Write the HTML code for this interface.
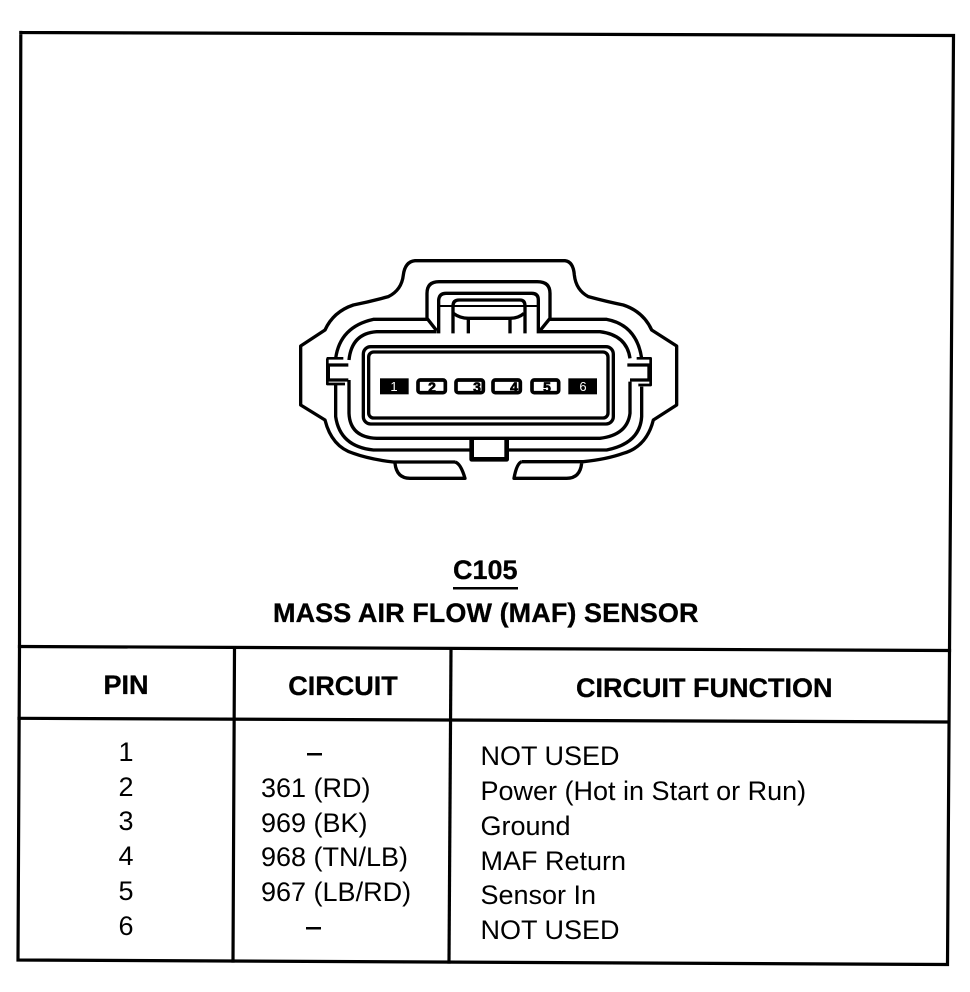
<!DOCTYPE html>
<html>
<head>
<meta charset="utf-8">
<style>
html,body{margin:0;padding:0;background:#fff;width:970px;height:992px;overflow:hidden}
svg{display:block}
text{font-family:"Liberation Sans",Arial,sans-serif;font-size:27px;fill:#000}
.b{font-weight:bold;stroke:#000;stroke-width:.3px}
.m{text-anchor:middle}
</style>
</head>
<body>
<svg width="970" height="992" viewBox="0 0 970 992" xmlns="http://www.w3.org/2000/svg">
<rect width="970" height="992" fill="#fff"/>
<!-- frame -->
<g fill="none" stroke="#000" stroke-width="3.2" stroke-linecap="square">
<path d="M20.8,32.5 L953.5,35.5 L949.5,650.5 L947.5,964.5 L18,960 L19.5,646.5 L20.8,32.5"/>
<path d="M19.5,646.5 L949.5,650.5"/>
<path d="M19,718.3 L948.5,722"/>
<path d="M234.5,648 L233,961"/>
<path d="M451,649 L449,962"/>
</g>
<!-- connector -->
<g transform="translate(290 250) scale(.33333)" fill="none" stroke="#000" stroke-width="10" stroke-linejoin="round">
<!-- outer body -->
<path d="M495,636 H310 Q240,628 190,610 Q125,590 105,510 L32,465 V288 L105,240 Q130,185 190,165 Q240,155 295,140 Q335,120 340,75 Q345,35 375,32 H825 Q850,35 853,75 Q858,120 895,140 Q950,155 1000,165 Q1060,185 1085,240 L1160,288 V465 L1090,510 Q1070,590 1000,610 Q950,628 880,635 H695"/>
<!-- bottom tabs -->
<path d="M315,640 Q320,685 360,685 H525 Q512,640 495,636"/>
<path d="M875,640 Q870,685 830,685 H672 Q680,640 695,635"/>
<!-- second contour -->
<path d="M137,325 Q150,230 250,208 H412"/>
<path d="M778,208 H950 Q1040,225 1055,325"/>
<path d="M137,400 V500 Q150,590 250,600 H540"/>
<path d="M650,600 H950 Q1050,580 1055,500 V410"/>
<!-- third contour -->
<path d="M177,330 Q185,250 260,245 H440"/>
<path d="M750,245 H930 Q1010,255 1020,325"/>
<path d="M177,390 V490 Q180,562 260,565 H930 Q1012,555 1020,490 V395"/>
<!-- inner rects -->
<rect x="220" y="290" width="750" height="232" rx="22"/>
<rect x="236" y="306" width="718" height="198" rx="15"/>
<!-- side tabs -->
<path d="M175,345 H115 V390 H175"/>
<path d="M110,325 H160" stroke-width="8"/>
<path d="M1012,345 H1077 V390 H1020"/>
<path d="M1040,325 H1082 V405 H1045" stroke-width="8"/>
<path d="M112,325 V402 H165" stroke-width="8"/>
<!-- top latch -->
<path d="M440,242 L411,205 V130 Q411,95 447,95 H742 Q780,95 780,130 V205 L750,242"/>
<path d="M446,250 V150 Q448,130 468,130 H725 Q745,130 745,150 V250"/>
<path d="M450,168 H745" stroke-width="6"/>
<path d="M489,250 V168 Q489,150 507,150 H690 Q705,150 705,168 V250"/>
<path d="M490,190 Q510,205 535,205 H660 Q685,205 702,190"/>
<path d="M535,205 V250 M660,205 V250"/>
<!-- bottom notch -->
<path d="M545,570 V628 H650 V570" stroke-width="14"/>
<!-- pins -->
<g stroke-width="0" fill="#000">
<rect x="270" y="385" width="86" height="48"/>
<rect x="835" y="385" width="86" height="48"/>
</g>
<g stroke-width="11">
<rect x="384" y="390" width="82" height="38" rx="7"/>
<rect x="498" y="390" width="82" height="38" rx="7"/>
<rect x="609" y="390" width="82" height="38" rx="7"/>
<rect x="726" y="390" width="80" height="38" rx="7"/>
</g>
</g>
<!-- pin numbers -->
<text class="m" x="394" y="391" style="font-size:13px;fill:#fff">1</text>
<text class="m" x="432" y="392" style="font-size:14px;font-weight:bold;stroke:#000;stroke-width:.7px">2</text>
<text class="m" x="477" y="392" style="font-size:14px;font-weight:bold;stroke:#000;stroke-width:.7px">3</text>
<text class="m" x="514" y="392" style="font-size:14px;font-weight:bold;stroke:#000;stroke-width:.7px">4</text>
<text class="m" x="547" y="392" style="font-size:14px;font-weight:bold;stroke:#000;stroke-width:.7px">5</text>
<text class="m" x="583" y="391" style="font-size:13px;fill:#fff">6</text>
<!-- titles -->
<text class="b" x="453" y="579">C105</text>
<rect x="453" y="587" width="65" height="2.5" fill="#000"/>
<text class="b" x="273" y="622" style="letter-spacing:.08px">MASS AIR FLOW (MAF) SENSOR</text>
<!-- headers -->
<text class="b m" x="126" y="694">PIN</text>
<text class="b m" x="343" y="695">CIRCUIT</text>
<text class="b" x="576" y="697">CIRCUIT FUNCTION</text>
<!-- pins col -->
<text class="m" x="126" y="761">1</text>
<text class="m" x="126" y="796">2</text>
<text class="m" x="126" y="830">3</text>
<text class="m" x="126" y="865">4</text>
<text class="m" x="126" y="900">5</text>
<text class="m" x="126" y="935">6</text>
<!-- circuit col -->
<rect x="307" y="753" width="15" height="2.5" fill="#000"/>
<text x="261" y="797">361 (RD)</text>
<text x="261" y="832">969 (BK)</text>
<text x="261" y="866">968 (TN/LB)</text>
<text x="261" y="901">967 (LB/RD)</text>
<rect x="306" y="927" width="15" height="2.5" fill="#000"/>
<!-- function col -->
<text x="480.5" y="765">NOT USED</text>
<text x="480.5" y="800">Power (Hot in Start or Run)</text>
<text x="480.5" y="835">Ground</text>
<text x="480.5" y="870">MAF Return</text>
<text x="480.5" y="904">Sensor In</text>
<text x="480.5" y="939">NOT USED</text>
</svg>
</body>
</html>
